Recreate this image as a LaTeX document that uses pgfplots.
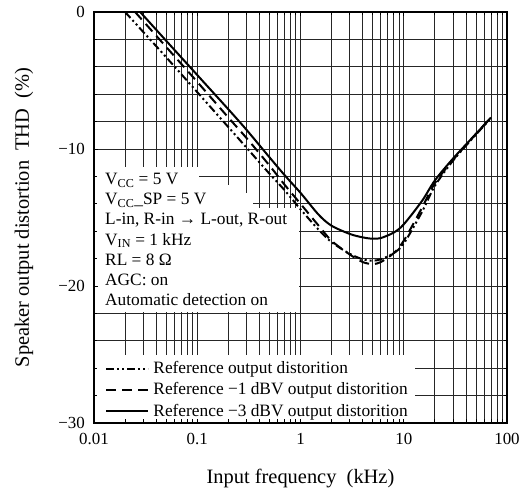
\documentclass[border=0pt]{standalone}
\usepackage{fontspec}
\setmainfont{Liberation Serif}
\usepackage{pgfplots}
\usepackage{pgfplotstable}
\pgfplotsset{compat=1.18}

% extra layer between the grid and the ticks, used to blank the grid behind the notes
\pgfdeclarelayer{gridmask}
\pgfplotsset{
  layers/masked/.define layer set={axis background,axis grid,gridmask,axis ticks,axis lines,axis tick labels,pre main,main,axis descriptions,axis foreground}{/pgfplots/layers/standard},
}
\newcommand{\chartfont}{\fontsize{17.4}{20.3}\selectfont}
\newcommand{\labelfont}{\fontsize{20.5}{24}\selectfont}

% THD (%) against input frequency (kHz)
\pgfplotstableread{
f      thd
0.020  0
0.05   -3.3
0.1    -5.85
0.2    -8.4
0.3    -9.9
0.5    -11.8
0.7    -13.0
1      -14.4
1.5    -15.9
2      -16.8
3      -17.65
4      -18.05
5      -18.15
6      -18.05
8      -17.6
10     -16.9
15     -14.6
20     -12.7
30     -10.85
50     -8.95
70     -7.75
}\refout
\pgfplotstableread{
f      thd
0.025  0
0.05   -2.55
0.1    -5.1
0.2    -7.7
0.3    -9.2
0.5    -11.2
0.7    -12.6
1      -14.0
1.5    -15.6
2      -16.7
3      -17.7
4      -18.25
5      -18.4
6      -18.25
8      -17.6
10     -16.7
15     -14.3
20     -12.5
30     -10.8
50     -8.9
70     -7.7
}\refminusone
\pgfplotstableread{
f      thd
0.028  0
0.05   -2.1
0.1    -4.6
0.2    -7.1
0.3    -8.6
0.5    -10.6
0.7    -11.9
1      -13.2
1.5    -14.8
2      -15.6
3      -16.2
4      -16.45
5      -16.55
6      -16.5
8      -16.1
10     -15.5
15     -13.8
20     -12.3
30     -10.7
50     -8.9
70     -7.7
}\refminusthree

\begin{document}
\chartfont
\begin{tikzpicture}[font=\chartfont]
\begin{axis}[
  name=ax,
  set layers=masked,
  xmode=log,
  scale only axis,
  width=413bp, height=411bp,
  xmin=0.01, xmax=100, ymin=-30, ymax=0,
  xtick={0.01,0.1,1,10,100},
  xticklabels={0.01,0.1,1,10,100},
  minor xtick={0.02,0.03,0.04,0.05,0.06,0.07,0.08,0.09,
               0.2,0.3,0.4,0.5,0.6,0.7,0.8,0.9,
               2,3,4,5,6,7,8,9,20,30,40,50,60,70,80,90},
  ytick={-30,-20,-10,0},
  yticklabels={−30,−20,−10,0},
  minor y tick num=4,
  grid=both,
  major grid style={black!85, line width=0.8bp},
  minor grid style={black!85, line width=0.8bp},
  tick align=inside,
  major tick length=4bp, minor tick length=3.5bp,
  tick style={black, line width=0.8bp},
  axis line style={black, line width=1.2bp},
  tick label style={font=\fontsize{17}{20}\selectfont},
  label style={font=\labelfont},
  xticklabel style={inner sep=0bp, yshift=-10bp},
  yticklabel style={inner sep=0bp, xshift=-9bp},
  xlabel={Input frequency~~(kHz)},
  ylabel={Speaker output distortion~~THD~~(\%)},
  xlabel style={at={(axis description cs:0.5,-0.136)}, anchor=center},
  ylabel style={at={(axis description cs:-0.1695,0.5)}, anchor=center},
  legend style={draw=none, fill=none, anchor=south west, font=\chartfont,
    at={(axis description cs:0.02,0.0)}, column sep=2bp, row sep=2.5bp},
  legend cell align=left,
  legend image code/.code={\draw[#1] (0bp,0bp) -- (42bp,0bp);},
]
\begin{pgfonlayer}{gridmask}
  \fill[white] (axis cs:0.01,-11.3) rectangle (axis cs:0.103,-21.93);
  \fill[white] (axis cs:0.103,-12.6) rectangle (axis cs:0.25,-21.93);
  \fill[white] (axis cs:0.25,-13.2) rectangle (axis cs:0.35,-21.93);
  \fill[white] (axis cs:0.35,-14.3) rectangle (axis cs:0.965,-21.93);
  \fill[white] (axis cs:0.01,-30) rectangle (axis cs:12.8,-25.05);
\end{pgfonlayer}

\addplot[black, line width=2bp, smooth,
  dash pattern=on 8bp off 3bp on 2bp off 3bp on 2bp off 3bp]
  table[x=f, y=thd] {\refout};
\addlegendentry{Reference output distorition}
\addplot[black, line width=2bp, smooth, dash pattern=on 10bp off 6bp]
  table[x=f, y=thd] {\refminusone};
\addlegendentry{Reference −1 dBV output distorition}
\addplot[black, line width=2bp, smooth]
  table[x=f, y=thd] {\refminusthree};
\addlegendentry{Reference −3 dBV output distorition}

\node[anchor=north west, align=left, inner sep=0pt] at (axis cs:0.01278,-11.75)
  {V\textsubscript{CC} = 5 V\\
   V\textsubscript{CC}\_SP = 5 V\\
   L-in, R-in → L-out, R-out\\
   V\textsubscript{IN} = 1 kHz\\
   RL = 8 Ω\\
   AGC: on\\
   Automatic detection on};
\end{axis}
\pgfresetboundingbox
\path[use as bounding box] ([xshift=-94bp,yshift=-68bp]ax.south west)
  rectangle ([xshift=14bp,yshift=12bp]ax.north east);
\end{tikzpicture}
\end{document}
